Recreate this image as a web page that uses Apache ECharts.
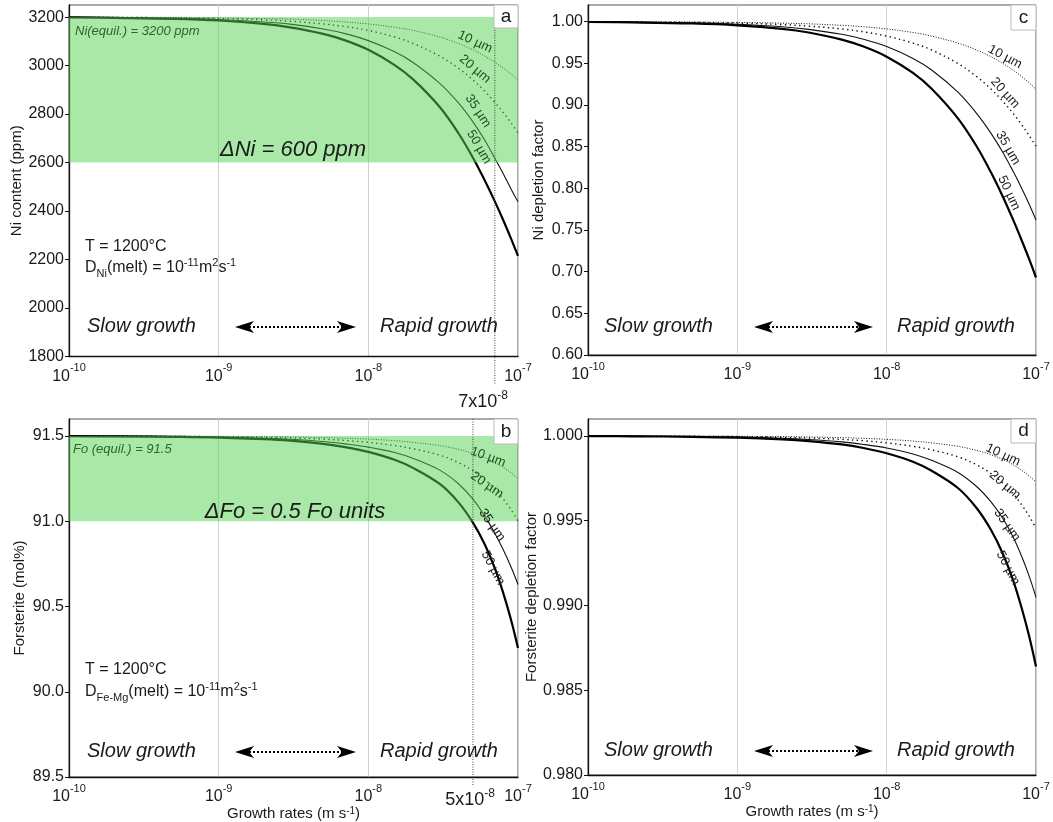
<!DOCTYPE html>
<html>
<head>
<meta charset="utf-8">
<script src="https://cdn.jsdelivr.net/npm/echarts@6/dist/echarts.min.js"></script>
<style>
  html, body { margin: 0; padding: 0; background: #fff; }
  #chart { width: 1053px; height: 822px; }
</style>
</head>
<body>
<div id="chart"></div>
<script>
// ---- growth rates (m/s) shared by every curve ----
const growthRates = [1e-10, 2e-10, 5e-10, 1e-9, 2e-9, 3e-9, 5e-9, 7e-9, 1e-8, 1.5e-8, 2e-8,
                     3e-8, 4e-8, 5e-8, 6e-8, 7e-8, 8e-8, 9e-8, 1e-7];
const boundaryLayers = ['10 µm', '20 µm', '35 µm', '50 µm'];

// ---- (a) Ni content of olivine, ppm ----
const niPpm10 = [3200, 3199, 3199, 3197, 3194, 3192, 3186, 3180, 3172, 3158, 3145, 3118, 3091, 3065, 3039, 3014, 2989, 2965, 2940];
const niPpm20 = [3199, 3199, 3197, 3194, 3189, 3183, 3172, 3161, 3145, 3118, 3091, 3039, 2989, 2941, 2894, 2849, 2805, 2763, 2722];
const niPpm35 = [3199, 3198, 3195, 3190, 3180, 3171, 3151, 3132, 3103, 3057, 3012, 2927, 2846, 2768, 2692, 2618, 2552, 2490, 2438];
const niPpm50 = [3199, 3197, 3193, 3186, 3172, 3158, 3131, 3104, 3065, 3002, 2942, 2829, 2721, 2620, 2526, 2440, 2360, 2285, 2215];

// ---- (c) Ni depletion factor ----
const niFactor10 = [1.0000, 0.9998, 0.9996, 0.9991, 0.9982, 0.9974, 0.9956, 0.9939, 0.9913, 0.9870, 0.9827, 0.9743, 0.9660, 0.9579, 0.9498, 0.9420, 0.9342, 0.9266, 0.9188];
const niFactor20 = [0.9998, 0.9996, 0.9991, 0.9982, 0.9965, 0.9947, 0.9913, 0.9878, 0.9827, 0.9743, 0.9660, 0.9498, 0.9342, 0.9191, 0.9045, 0.8903, 0.8766, 0.8633, 0.8505];
const niFactor35 = [0.9997, 0.9994, 0.9985, 0.9969, 0.9939, 0.9908, 0.9848, 0.9789, 0.9701, 0.9558, 0.9420, 0.9154, 0.8900, 0.8660, 0.8430, 0.8210, 0.8005, 0.7810, 0.7620];
const niFactor50 = [0.9996, 0.9991, 0.9978, 0.9956, 0.9913, 0.9870, 0.9785, 0.9701, 0.9580, 0.9385, 0.9195, 0.8840, 0.8505, 0.8190, 0.7900, 0.7630, 0.7380, 0.7150, 0.6930];

// ---- (b) forsterite content, mol% ----
const foMol10 = [91.500, 91.500, 91.499, 91.498, 91.496, 91.495, 91.491, 91.487, 91.482, 91.473, 91.463, 91.444, 91.422, 91.398, 91.373, 91.345, 91.315, 91.284, 91.251];
const foMol20 = [91.500, 91.499, 91.498, 91.496, 91.493, 91.489, 91.482, 91.474, 91.463, 91.444, 91.425, 91.388, 91.344, 91.297, 91.246, 91.190, 91.129, 91.067, 91.002];
const foMol35 = [91.499, 91.499, 91.497, 91.494, 91.487, 91.481, 91.468, 91.454, 91.435, 91.403, 91.368, 91.300, 91.220, 91.130, 91.030, 90.930, 90.830, 90.730, 90.629];
const foMol50 = [91.499, 91.498, 91.495, 91.491, 91.482, 91.473, 91.454, 91.435, 91.407, 91.361, 91.312, 91.219, 91.111, 90.992, 90.864, 90.725, 90.574, 90.419, 90.256];

// ---- (d) forsterite depletion factor ----
const foFactor10 = [1.00000, 1.00000, 0.99999, 0.99998, 0.99996, 0.99994, 0.99990, 0.99986, 0.99980, 0.99970, 0.99959, 0.99939, 0.99915, 0.99889, 0.99861, 0.99831, 0.99798, 0.99764, 0.99728];
const foFactor20 = [1.00000, 0.99999, 0.99998, 0.99996, 0.99992, 0.99988, 0.99980, 0.99972, 0.99959, 0.99939, 0.99918, 0.99877, 0.99830, 0.99778, 0.99722, 0.99661, 0.99595, 0.99527, 0.99456];
const foFactor35 = [0.99999, 0.99999, 0.99997, 0.99993, 0.99986, 0.99979, 0.99965, 0.99950, 0.99929, 0.99894, 0.99856, 0.99785, 0.99702, 0.99611, 0.99513, 0.99407, 0.99292, 0.99173, 0.99048];
const foFactor50 = [0.99999, 0.99998, 0.99995, 0.99990, 0.99980, 0.99970, 0.99950, 0.99929, 0.99898, 0.99848, 0.99795, 0.99693, 0.99575, 0.99445, 0.99305, 0.99153, 0.98988, 0.98818, 0.98640];

// ---- ticks, equilibrium bands and marked growth rates ----
const rateTicks = [1e-10, 1e-9, 1e-8, 1e-7];
const niPpmTicks = [1800, 2000, 2200, 2400, 2600, 2800, 3000, 3200];
const niFactorTicks = [0.60, 0.65, 0.70, 0.75, 0.80, 0.85, 0.90, 0.95, 1.00];
const foMolTicks = [89.5, 90.0, 90.5, 91.0, 91.5];
const foFactorTicks = [0.980, 0.985, 0.990, 0.995, 1.000];
const niBand = [2600, 3200];
const foBand = [91.0, 91.5];
const niMarkedRate = 7e-8;
const foMarkedRate = 5e-8;

const FONT = '"Liberation Sans", Arial, Helvetica, sans-serif';
const INK = '#1a1a1a';
const BAND_FILL = 'rgba(85, 209, 81, 0.5)';

const lineStyles = [
  { color: '#111', width: 1.0, type: [1, 1.6] },
  { color: '#111', width: 1.4, type: [1.4, 3.4] },
  { color: '#111', width: 1.1, type: 'solid' },
  { color: '#000', width: 2.2, type: 'solid' }
];

const panels = [
  { grid: { left: 69, right: 535, top: 5, height: 351.5 },
    yMin: 1800, yMax: 3250, yTicks: niPpmTicks, digits: 0, yName: 'Ni content (ppm)',
    curves: [niPpm10, niPpm20, niPpm35, niPpm50], band: niBand, xName: false },
  { grid: { left: 69, right: 535, top: 419, height: 358 },
    yMin: 89.5, yMax: 91.6, yTicks: foMolTicks, digits: 1, yName: 'Forsterite (mol%)',
    curves: [foMol10, foMol20, foMol35, foMol50], band: foBand, xName: true },
  { grid: { left: 588, right: 17, top: 5, height: 350 },
    yMin: 0.60, yMax: 1.02, yTicks: niFactorTicks, digits: 2, yName: 'Ni depletion factor',
    curves: [niFactor10, niFactor20, niFactor35, niFactor50], band: null, xName: false },
  { grid: { left: 588, right: 17, top: 419, height: 356 },
    yMin: 0.980, yMax: 1.001, yTicks: foFactorTicks, digits: 3, yName: 'Forsterite depletion factor',
    curves: [foFactor10, foFactor20, foFactor35, foFactor50], band: null, xName: true }
];

const supRich = {
  b: { fontFamily: FONT, fontSize: 16, color: INK, lineHeight: 22, verticalAlign: 'bottom' },
  s: { fontFamily: FONT, fontSize: 11, color: INK, lineHeight: 11, verticalAlign: 'top' }
};

const grids = [], xAxes = [], yAxes = [], series = [];

panels.forEach((p, i) => {
  grids.push(Object.assign({ show: true, borderColor: '#555', borderWidth: 1, backgroundColor: 'transparent' }, p.grid));

  xAxes.push({
    type: 'log', logBase: 10, gridIndex: i, min: 1e-10, max: 1e-7,
    axisLine: { show: true, onZero: false, lineStyle: { color: '#111', width: 1.3 } },
    axisTick: { show: false },
    splitLine: { show: true, lineStyle: { color: '#d2d2d2', width: 1 } },
    axisLabel: {
      margin: 6, customValues: rateTicks,
      formatter: v => '{b|10}{s|' + Math.round(Math.log10(v)) + '}',
      rich: supRich
    },
    name: p.xName ? 'Growth rates (m s{s|-1})' : '',
    nameLocation: 'middle', nameGap: 24,
    nameTextStyle: {
      fontFamily: FONT, fontSize: 15, color: INK,
      rich: {
        s: { fontFamily: FONT, fontSize: 10, color: INK, lineHeight: 10, verticalAlign: 'top' }
      }
    }
  });

  yAxes.push({
    type: 'value', gridIndex: i, min: p.yMin, max: p.yMax,
    axisLine: { show: true, onZero: false, lineStyle: { color: '#111', width: 1.3 } },
    axisTick: { show: true, length: 4, customValues: p.yTicks, lineStyle: { color: '#111' } },
    splitLine: { show: false },
    axisLabel: {
      customValues: p.yTicks, margin: 5,
      fontFamily: FONT, fontSize: 16, color: INK,
      formatter: v => Number(v).toFixed(p.digits)
    },
    name: p.yName, nameLocation: 'middle', nameRotate: 90, nameGap: p.digits === 3 ? 38 : 42,
    nameTextStyle: { fontFamily: FONT, fontSize: 15, color: INK }
  });

  p.curves.forEach((vals, k) => {
    series.push({
      name: boundaryLayers[k], type: 'line', xAxisIndex: i, yAxisIndex: i,
      data: growthRates.map((r, j) => [r, vals[j]]),
      showSymbol: false, smooth: 0.35, silent: true, z: 2,
      lineStyle: lineStyles[k]
    });
  });

  if (p.band) {
    series.push({
      type: 'line', xAxisIndex: i, yAxisIndex: i, data: [], silent: true,
      markArea: {
        silent: true, z: 10,
        itemStyle: { color: BAND_FILL },
        data: [[{ coord: [1e-10, p.band[0]] }, { coord: [1e-7, p.band[1]] }]]
      }
    });
  }
});

const chart = echarts.init(document.getElementById('chart'), null, { renderer: 'canvas' });
chart.setOption({
  animation: false,
  backgroundColor: '#fff',
  grid: grids, xAxis: xAxes, yAxis: yAxes, series: series
});

// ---- annotations ----
const deg = a => -a * Math.PI / 180;
const txt = (x, y, text, style, extra) => Object.assign({
  type: 'text', x: x, y: y, z: 100, silent: true,
  style: Object.assign({ text: text, fontFamily: FONT, fill: INK, verticalAlign: 'middle', align: 'left' }, style)
}, extra || {});

const richFormula = {
  t: { fontFamily: FONT, fontSize: 16, fill: INK, lineHeight: 22, verticalAlign: 'middle' },
  sub: { fontFamily: FONT, fontSize: 11, fill: INK, lineHeight: 8, verticalAlign: 'bottom' },
  sup: { fontFamily: FONT, fontSize: 11, fill: INK, lineHeight: 10, verticalAlign: 'top' }
};
const richMarker = {
  t: { fontFamily: FONT, fontSize: 18, fill: INK, lineHeight: 24, verticalAlign: 'middle' },
  sup: { fontFamily: FONT, fontSize: 12, fill: INK, lineHeight: 10, verticalAlign: 'top' }
};

function arrow(x0, x1, y) {
  return [
    { type: 'line', z: 100, silent: true, shape: { x1: x0 + 14, y1: y, x2: x1 - 14, y2: y },
      style: { stroke: '#000', lineWidth: 2.2, lineDash: [2, 2] } },
    { type: 'polygon', z: 100, silent: true, shape: { points: [[x0, y], [x0 + 19, y - 6], [x0 + 14, y], [x0 + 19, y + 6]] },
      style: { fill: '#000' } },
    { type: 'polygon', z: 100, silent: true, shape: { points: [[x1, y], [x1 - 19, y - 6], [x1 - 14, y], [x1 - 19, y + 6]] },
      style: { fill: '#000' } }
  ];
}

function letterBox(x, y, w, h, letter) {
  return [
    { type: 'rect', z: 100, silent: true, shape: { x: x, y: y, width: w, height: h },
      style: { fill: '#fff', stroke: '#bbb', lineWidth: 1 } },
    txt(x + w / 2, y + h / 2, letter, { fontSize: 19, align: 'center' })
  ];
}

function curveLabels(list, bandBottom) {
  return list.map(([x, y, a], k) => txt(x, y, boundaryLayers[k], {
    fontSize: 13, align: 'center', fill: (bandBottom !== null && y < bandBottom) ? '#1f4f1f' : INK
  }, { rotation: deg(a) }));
}

function markedRateLine(axisIndex, rate, yTop, yBottom) {
  const x = chart.convertToPixel({ xAxisIndex: axisIndex }, rate);
  return { type: 'line', z: 11, silent: true, shape: { x1: x, y1: yTop, x2: x, y2: yBottom },
           style: { stroke: '#444', lineWidth: 1, lineDash: [1, 1.5] } };
}

const italic = { fontStyle: 'italic' };
const graphics = [].concat(
  // panel a
  [
    txt(75, 31.5, 'Ni(equil.) = 3200 ppm', Object.assign({ fontSize: 13, fill: '#2b662b' }, italic)),
    txt(293, 150, '\u0394Ni = 600 ppm', Object.assign({ fontSize: 22, align: 'center' }, italic)),
    txt(85, 247, 'T = 1200°C', { fontSize: 16 }),
    txt(85, 268, '{t|D}{sub|Ni}{t|(melt) = 10}{sup|-11}{t|m}{sup|2}{t|s}{sup|-1}', { rich: richFormula }),
    txt(87, 326, 'Slow growth', Object.assign({ fontSize: 20 }, italic)),
    txt(380, 326, 'Rapid growth', Object.assign({ fontSize: 20 }, italic)),
    txt(483, 402, '{t|7x10}{sup|-8}', { rich: richMarker, align: 'center' }),
    markedRateLine(0, niMarkedRate, 5, 384)
  ],
  arrow(235, 356, 327),
  letterBox(494, 5, 24, 23, 'a'),
  curveLabels([[475, 42, 25], [475, 69, 40], [478, 111, 57], [479, 147, 60]], 163),
  // panel b
  [
    txt(73, 449, 'Fo (equil.) = 91.5', Object.assign({ fontSize: 13, fill: '#2b662b' }, italic)),
    txt(295, 512, '\u0394Fo = 0.5 Fo units', Object.assign({ fontSize: 22, align: 'center' }, italic)),
    txt(85, 670, 'T = 1200°C', { fontSize: 16 }),
    txt(85, 692, '{t|D}{sub|Fe-Mg}{t|(melt) = 10}{sup|-11}{t|m}{sup|2}{t|s}{sup|-1}', { rich: richFormula }),
    txt(87, 751, 'Slow growth', Object.assign({ fontSize: 20 }, italic)),
    txt(380, 751, 'Rapid growth', Object.assign({ fontSize: 20 }, italic)),
    txt(470, 800, '{t|5x10}{sup|-8}', { rich: richMarker, align: 'center' }),
    markedRateLine(1, foMarkedRate, 419, 786)
  ],
  arrow(235, 356, 752),
  letterBox(494, 419, 24, 25, 'b'),
  curveLabels([[488, 457, 20], [487, 485, 35], [492, 525, 55], [493, 568, 62]], 522),
  // panel c
  [
    txt(604, 326, 'Slow growth', Object.assign({ fontSize: 20 }, italic)),
    txt(897, 326, 'Rapid growth', Object.assign({ fontSize: 20 }, italic))
  ],
  arrow(754, 873, 327),
  letterBox(1011, 5, 25, 25, 'c'),
  curveLabels([[1005, 57, 28], [1005, 93, 48], [1008, 148, 60], [1009, 193, 65]], null),
  // panel d
  [
    txt(604, 750, 'Slow growth', Object.assign({ fontSize: 20 }, italic)),
    txt(897, 750, 'Rapid growth', Object.assign({ fontSize: 20 }, italic))
  ],
  arrow(754, 873, 751),
  letterBox(1011, 419, 25, 24, 'd'),
  curveLabels([[1003, 455, 25], [1005, 485, 40], [1007, 525, 55], [1008, 568, 62]], null)
);

chart.setOption({ graphic: { elements: graphics } });
</script>
</body>
</html>
